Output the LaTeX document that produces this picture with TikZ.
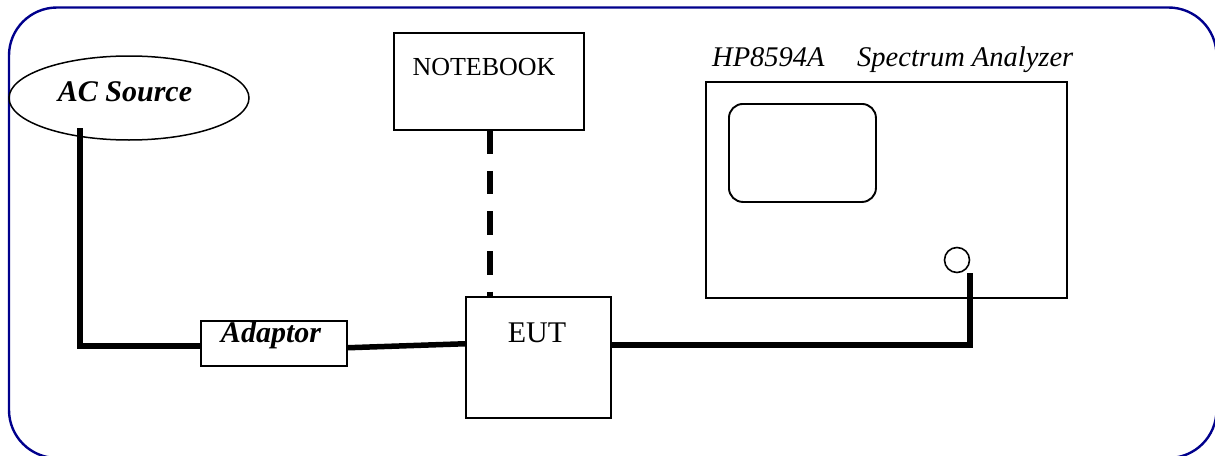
\documentclass[tikz,border=0pt]{standalone}
\usepackage{fontspec}
\setmainfont{Liberation Serif}
\usetikzlibrary{shapes.geometric,calc}
\definecolor{framenavy}{RGB}{0,0,140}
\tikzset{
  box/.style={draw, line width=1.5pt, rectangle, inner sep=0pt, anchor=north west},
  cable/.style={line width=5.5pt},
  dashcable/.style={line width=6pt, dash pattern=on 23.5pt off 16.8pt},
  lbl/.style={inner sep=0pt, anchor=base},
  bi/.style={font=\fontsize{30}{36}\selectfont\bfseries\itshape},
  up/.style={font=\fontsize{30}{36}\selectfont},
}
\begin{document}
\begin{tikzpicture}[x=1pt,y=-1pt]
\useasboundingbox (0,0) rectangle (1215,455);
\draw[framenavy, line width=2.4pt, rounded corners=48pt] (9,7.5) rectangle (1216.5,458);

% AC source
\node[ellipse, draw, line width=1.5pt, minimum width=240pt, minimum height=84pt, inner sep=0pt] (src) at (129,98) {};
\node[lbl, bi] (srct) at (125,101) {AC Source};
\coordinate (acout) at (80,128);

% Adaptor
\node[box, minimum width=146pt, minimum height=45pt] (adp) at (200,320) {};
\node[lbl, bi] (adpt) at (271,342) {Adaptor};

% Notebook
\node[box, minimum width=190pt, minimum height=97pt] (nb) at (393,32) {};
\node[lbl, font=\fontsize{26}{31}\selectfont] (nbt) at (484,75) {NOTEBOOK};

% EUT
\node[box, minimum width=145pt, minimum height=121pt] (eut) at (465,296) {};
\node[lbl, up] (eutt) at (537,342) {EUT};

% Spectrum analyzer
\node[box, minimum width=361pt, minimum height=216pt] (sa) at (705,81) {};
\node[inner sep=0pt, anchor=base west, font=\fontsize{28.5}{34}\selectfont\itshape] (sat1) at (712,66) {HP8594A};
\node[inner sep=0pt, anchor=base west, font=\fontsize{28.5}{34}\selectfont\itshape] (sat2) at (857,66) {Spectrum Analyzer};
\node[draw, line width=1.9pt, rounded corners=14pt, rectangle, inner sep=0pt, anchor=north west, minimum width=147pt, minimum height=98pt] (scr) at (728,103) {};
\node[circle, draw, line width=1.6pt, minimum size=25pt, inner sep=0pt] (knob) at (957,260) {};
\coordinate (port) at (970,273);

% cables
\draw[cable] (acout) |- ($(adp.west)+(0,2.5)$);
\draw[cable] ($(adp.east)+(0,4.5)$) -- ($(eut.west)+(0,-13.5)$);
\draw[cable] ($(eut.east)+(0,-12.5)$) -| (port);
\draw[dashcable] ($(nb.south)+(1,0)$) -- ($(nb.south |- eut.north)+(1,0)$);
\end{tikzpicture}
\end{document}
